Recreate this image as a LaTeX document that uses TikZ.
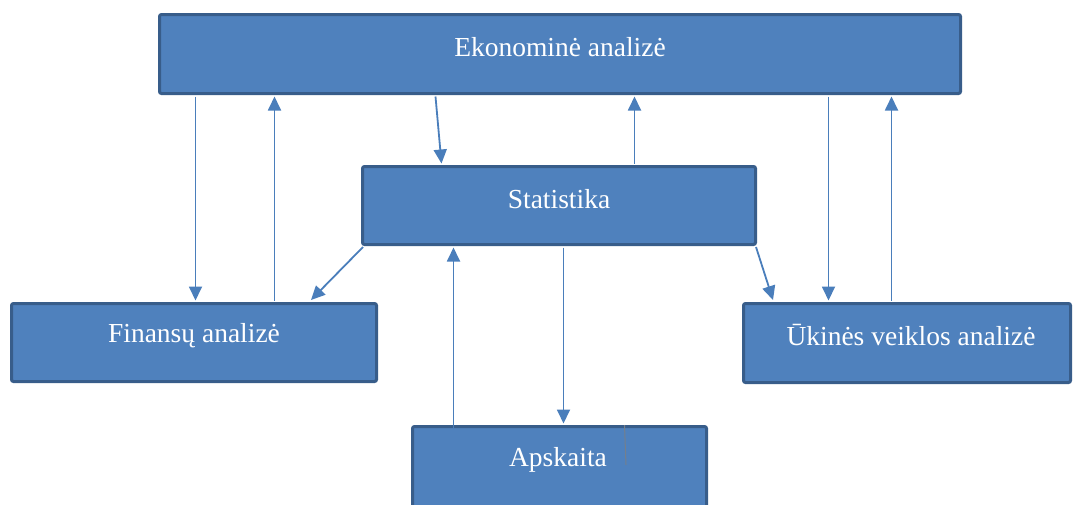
\documentclass[tikz,border=0pt]{standalone}
\usepackage{fontspec}
\setmainfont{Liberation Serif}
\usetikzlibrary{arrows.meta}
\definecolor{boxfill}{HTML}{4F81BD}
\definecolor{boxedge}{HTML}{385D8A}
\definecolor{linkcol}{HTML}{4A7EBB}
\begin{document}
\begin{tikzpicture}[x=1pt,y=-1pt,
  block/.style={draw=boxedge, fill=boxfill, line width=3pt, rounded corners=2pt,
    inner sep=0pt, minimum width=#1},
  block/.default=300pt,
  caption/.style={text=white, font=\fontsize{27.5}{32}\selectfont, inner sep=0pt},
  link/.style={draw=linkcol, line width=1.8pt,
    -{Triangle[length=14pt,width=13pt]}},
  stub/.style={draw=gray!80!linkcol, line width=1pt}]
  \useasboundingbox (0,0) rectangle (1075,504);
  \clip (0,0) rectangle (1075,504);

  % boxes
  \node[block=801pt, minimum height=79pt] (ekon) at (560,54) {};
  \node[block=393pt, minimum height=78pt] (stat) at (559,205.5) {};
  \node[block=365pt, minimum height=78pt] (fin)  at (194,342.5) {};
  \node[block=327pt, minimum height=79pt] (ukin) at (907,343) {};
  \node[block=294pt, minimum height=90pt] (aps)  at (559.5,471.5) {};

  % captions
  \node[caption] (tekon) at (560,47)  {Ekonominė analizė};
  \node[caption] (tstat) at (559,199) {Statistika};
  \node[caption] (tfin)  at (194,336) {Finansų analizė};
  \node[caption] (tukin) at (911,335) {Ūkinės veiklos analizė};
  \node[caption] (taps)  at (558,460) {Apskaita};

  % connectors
  \draw[link] ([xshift=37.5pt,yshift=-1.5pt]ekon.south west) -- ([xshift=185.5pt,yshift=1.5pt]fin.north west);
  \draw[link] ([xshift=264.5pt,yshift=1.5pt]fin.north west) -- ([xshift=116.5pt,yshift=-1.5pt]ekon.south west);
  \draw[link] ([xshift=277.5pt,yshift=-1.5pt]ekon.south west) -- ([xshift=80.5pt,yshift=1.5pt]stat.north west);
  \draw[link] ([xshift=273.5pt,yshift=1.5pt]stat.north west) -- ([xshift=476.5pt,yshift=-1.5pt]ekon.south west);
  \draw[link] ([xshift=670.5pt,yshift=-1.5pt]ekon.south west) -- ([xshift=86.5pt,yshift=1.5pt]ukin.north west);
  \draw[link] ([xshift=149.5pt,yshift=1.5pt]ukin.north west) -- ([xshift=733.5pt,yshift=-1.5pt]ekon.south west);
  \draw[link] ([xshift=2pt,yshift=-1pt]stat.south west) -- ([xshift=301pt,yshift=2pt]fin.north west);
  \draw[link] ([xshift=-1pt,yshift=-1pt]stat.south east) -- ([xshift=31pt,yshift=2pt]ukin.north west);
  \draw[link] ([xshift=42.5pt,yshift=-4pt]aps.north west) -- ([xshift=92.5pt,yshift=-1.5pt]stat.south west);
  \draw[link] ([xshift=202.5pt,yshift=-1.5pt]stat.south west) -- ([xshift=152.5pt,yshift=1.5pt]aps.north west);
  \coordinate (apsmark) at (626,465);
  \draw[stub] ([xshift=213.5pt]aps.north west) -- (apsmark);
\end{tikzpicture}
\end{document}
